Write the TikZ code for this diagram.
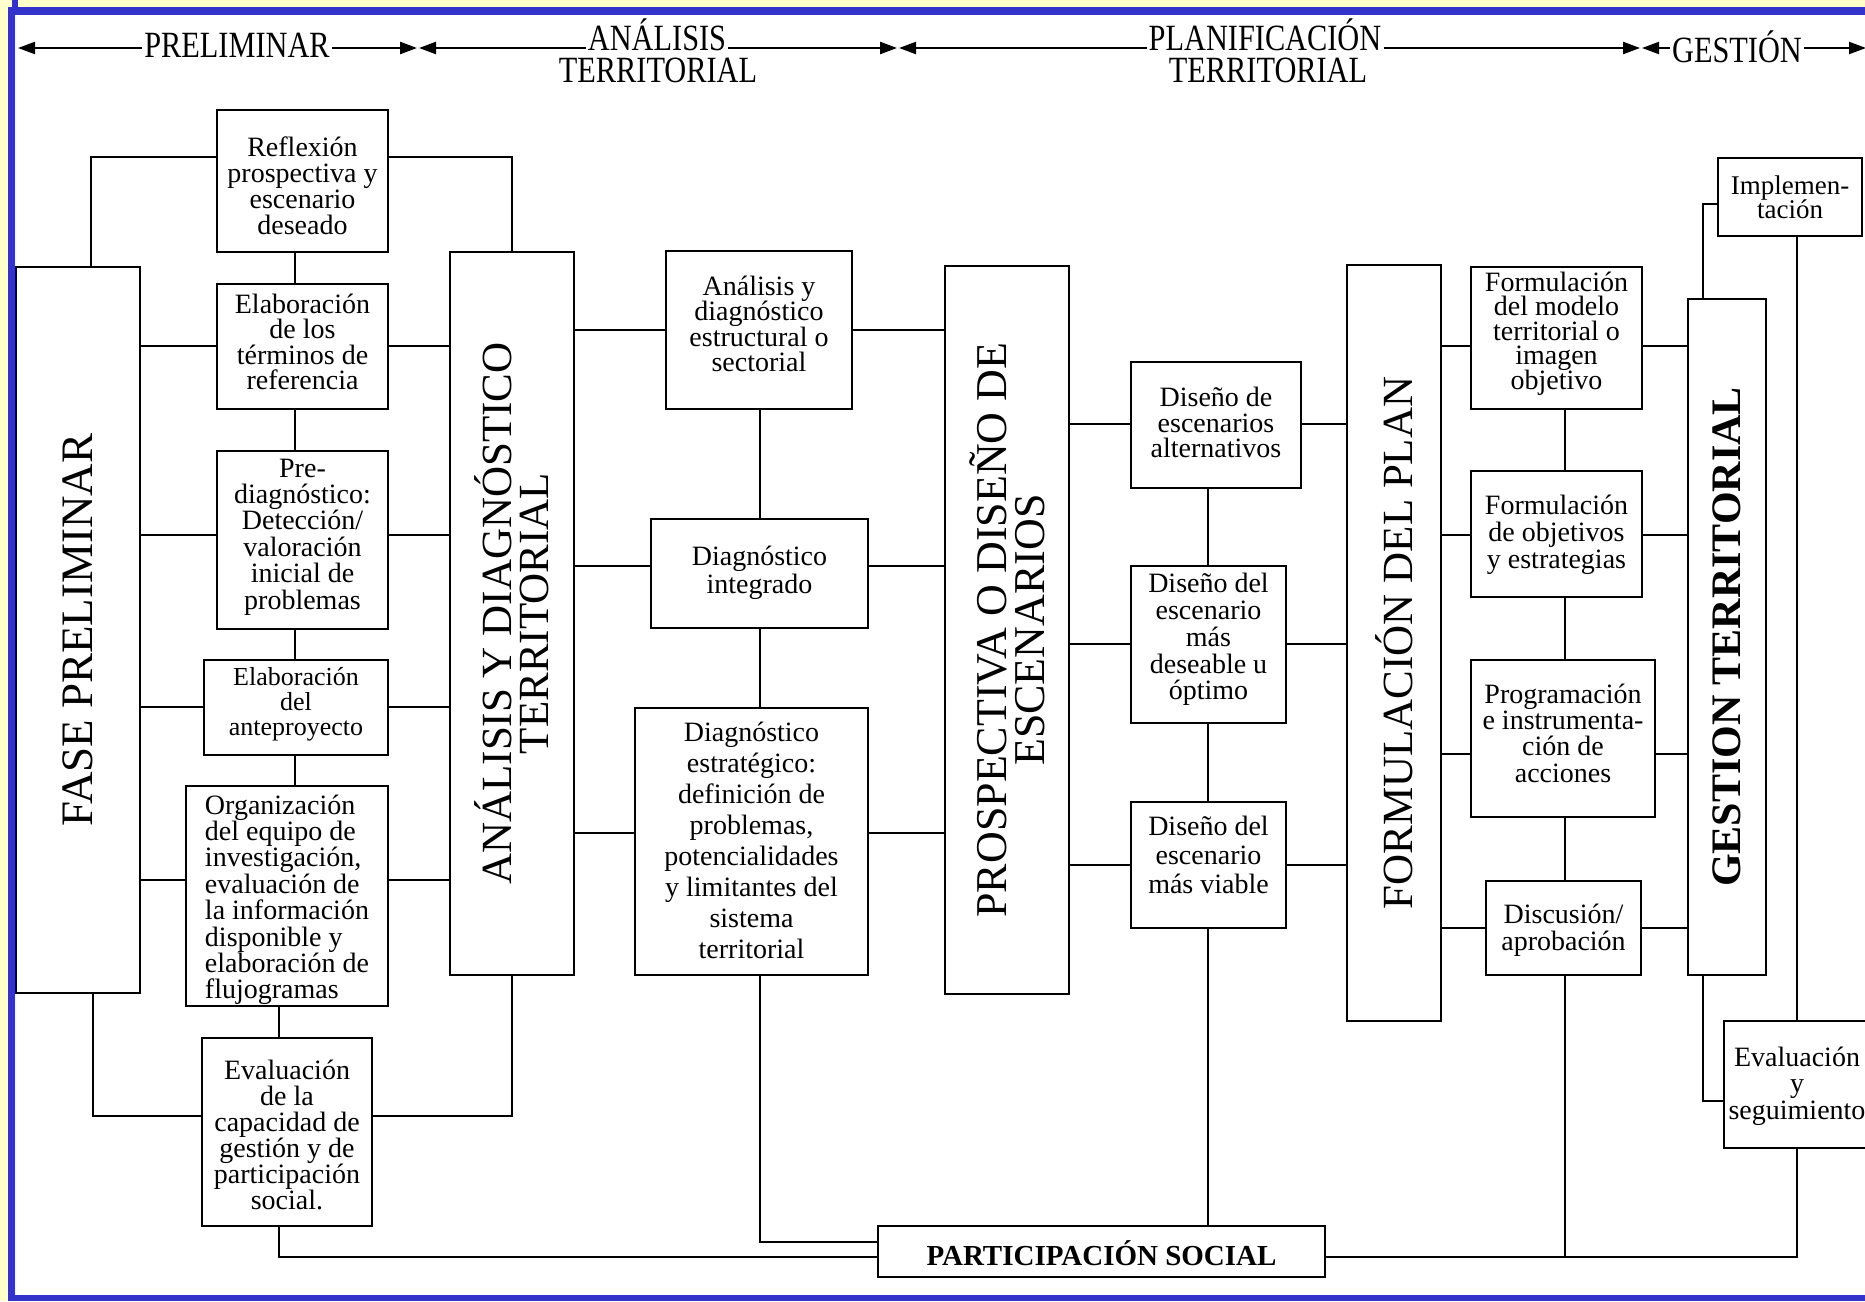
\documentclass[tikz,border=0pt]{standalone}
\usepackage{fontspec}
\setmainfont{Liberation Serif}
\newfontfamily\hdrfont[FakeStretch=0.82]{Liberation Serif}
\usetikzlibrary{fit,arrows.meta}
\definecolor{bgyellow}{RGB}{255,255,204}
\definecolor{frameblue}{RGB}{51,51,204}
% box text: [size]{raise of first baseline above box centre}{line pitch}{lines}
\newcommand\bt[4][28]{\raisebox{#2pt}[0pt][0pt]{\fontsize{#1}{#3}\selectfont\lineskiplimit=-1000pt\def\\{\cr}\vtop{\halign{\hfil##\hfil\cr#4\crcr}}}}
\newcommand\btl[4][28]{\raisebox{#2pt}[0pt][0pt]{\fontsize{#1}{#3}\selectfont\lineskiplimit=-1000pt\def\\{\cr}\vtop{\halign{##\hfil\cr#4\crcr}}}}
\begin{document}
\begin{tikzpicture}[x=1pt,y=-1pt,
  box/.style={draw, line width=2.2pt, fill=white, inner sep=0pt},
  conn/.style={line width=2.2pt, draw=black},
  hdr/.style={inner xsep=2pt, inner ysep=0pt, font=\hdrfont\fontsize{37}{28}\selectfont, anchor=base},
  hline/.style={line width=2.2pt}]
\useasboundingbox (0,0) rectangle (1865,1301);
\fill[bgyellow] (0,0) rectangle (1865,1301);
\fill[frameblue] (8,7) rectangle (1865,1301);
\fill[frameblue] (12,0) rectangle (18,7);
\fill[white] (15,15) rectangle (1865,1295);

% header
\node[hdr] (hPre) at (237,57) {PRELIMINAR};
\node[hdr] (hAna) at (657,50) {ANÁLISIS};
\node[hdr] (hAnaB) at (658,82) {TERRITORIAL};
\node[hdr] (hPla) at (1265,50) {PLANIFICACIÓN};
\node[hdr] (hPlaB) at (1268,82) {TERRITORIAL};
\node[hdr] (hGes) at (1737,62) {GESTIÓN};
\coordinate (t0) at (18,48);
\coordinate (t1a) at (417,48);
\coordinate (t1b) at (419,48);
\coordinate (t2a) at (897,48);
\coordinate (t2b) at (899,48);
\coordinate (t3a) at (1640,48);
\coordinate (t3b) at (1642,48);
\coordinate (t4) at (1866,48);
\draw[hline,{Triangle[length=17pt,width=12pt]}-] (t0) -- (hPre.west |- t0);
\draw[hline,-{Triangle[length=17pt,width=12pt]}] (hPre.east |- t0) -- (t1a);
\draw[hline,{Triangle[length=17pt,width=12pt]}-] (t1b) -- (hAna.west |- t0);
\draw[hline,-{Triangle[length=17pt,width=12pt]}] (hAna.east |- t0) -- (t2a);
\draw[hline,{Triangle[length=17pt,width=12pt]}-] (t2b) -- (hPla.west |- t0);
\draw[hline,-{Triangle[length=17pt,width=12pt]}] (hPla.east |- t0) -- (t3a);
\draw[hline,{Triangle[length=17pt,width=12pt]}-] (t3b) -- (hGes.west |- t0);
\draw[hline,-{Triangle[length=17pt,width=12pt]}] (hGes.east |- t0) -- (t4);

% boxes
\node[box, fit={(16,267) (140,993)},
  label={[rotate=90, font=\fontsize{45}{45}\selectfont]center:FASE PRELIMINAR}] (fase) {};
\node[box, fit={(217,110) (388,252)}] (refl) {\bt{25}{26}{Reflexión\\prospectiva y\\escenario\\deseado}};
\node[box, fit={(217,284) (388,409)}] (elt) {\bt{33.5}{25.5}{Elaboración\\de los\\términos de\\referencia}};
\node[box, fit={(217,451) (388,629)}] (pre) {\bt{63}{26.4}{Pre-\\diagnóstico:\\Detección/\\valoración\\inicial de\\problemas}};
\node[box, fit={(204,660) (388,755)}] (ela) {\bt[26]{22}{25}{Elaboración\\del\\anteproyecto}};
\node[box, fit={(186,786) (388,1006)}] (org) {\btl{82}{26.4}{Organización\\del equipo de\\investigación,\\evaluación de\\la información\\disponible y\\elaboración de\\flujogramas}};
\node[box, fit={(202,1038) (372,1226)}] (evc) {\bt{52.5}{26}{Evaluación\\de la\\capacidad de\\gestión y de\\participación\\social.}};
\node[box, fit={(450,252) (574,975)},
  label={[rotate=90, align=center, font=\fontsize{43}{37}\selectfont]center:{ANÁLISIS Y DIAGNÓSTICO\\TERRITORIAL}}] (anl) {};
\node[box, fit={(666,251) (852,409)}] (ads) {\bt{35}{25.5}{Análisis y\\diagnóstico\\estructural o\\sectorial}};
\node[box, fit={(651,519) (868,628)}] (dgi) {\bt{8.5}{28}{Diagnóstico\\integrado}};
\node[box, fit={(635,708) (868,975)}] (dge) {\bt{100.5}{31}{Diagnóstico\\estratégico:\\definición de\\problemas,\\potencialidades\\y limitantes del\\sistema\\territorial}};
\node[box, fit={(945,266) (1069,994)},
  label={[rotate=90, align=center, font=\fontsize{44}{38}\selectfont]center:{PROSPECTIVA O DISEÑO DE\\ESCENARIOS}}] (pro) {};
\node[box, fit={(1131,362) (1301,488)}] (dsa) {\bt{18.5}{25.5}{Diseño de\\escenarios\\alternativos}};
\node[box, fit={(1131,566) (1286,723)}] (dsd) {\bt{51.8}{26.8}{Diseño del\\escenario\\más\\deseable u\\óptimo}};
\node[box, fit={(1131,802) (1286,928)}] (dsv) {\bt{30}{29}{Diseño del\\escenario\\más viable}};
\node[box, fit={(1347,265) (1441,1021)},
  label={[rotate=90, font=\fontsize{43}{43}\selectfont]center:FORMULACIÓN DEL PLAN}] (frm) {};
\node[box, fit={(1471,267) (1642,409)}] (fmo) {\bt{46.5}{24.4}{Formulación\\del modelo\\territorial o\\imagen\\objetivo}};
\node[box, fit={(1471,471) (1642,597)}] (fob) {\bt{20}{27}{Formulación\\de objetivos\\y estrategias}};
\node[box, fit={(1471,660) (1655,817)}] (prg) {\bt{35}{26.2}{Programación\\e instrumenta-\\ción de\\acciones}};
\node[box, fit={(1486,881) (1641,975)}] (dis) {\bt{5}{27}{Discusión/\\aprobación}};
\node[box, fit={(1688,299) (1766,975)},
  label={[rotate=90, font=\fontsize{42}{42}\selectfont\bfseries]center:GESTION TERRITORIAL}] (ges) {};
\node[box, fit={(1718,158) (1862,236)}] (imp) {\bt[27]{3}{24}{Implemen-\\tación}};
\node[box, fit={(1724,1021) (1870,1148)}] (evs) {\bt{18.5}{26.7}{Evaluación\\y\\seguimiento}};
\node[box, fit={(878,1226) (1325,1277)}] (par) {\bt[29]{-13.5}{29}{\bfseries PARTICIPACIÓN SOCIAL}};
\coordinate (jd) at (1565,1257);

% connectors: preliminary column
\draw[conn] (fase.north -| 91,0) |- (refl.west |- 0,157);
\draw[conn] (refl.east |- 0,157) -| (anl.north -| 512,0);
\foreach \n/\y in {elt/346, pre/535, ela/707, org/880} {
  \draw[conn] (fase.east |- 0,\y) -- (\n.west |- 0,\y);
  \draw[conn] (\n.east |- 0,\y) -- (anl.west |- 0,\y);
}
\draw[conn] (fase.south -| 93,0) |- (evc.west |- 0,1116);
\draw[conn] (evc.east |- 0,1116) -| (anl.south -| 512,0);
\draw[conn] (refl.south -| 295,0) -- (elt.north -| 295,0);
\draw[conn] (elt.south -| 295,0) -- (pre.north -| 295,0);
\draw[conn] (pre.south -| 295,0) -- (ela.north -| 295,0);
\draw[conn] (ela.south -| 295,0) -- (org.north -| 295,0);
\draw[conn] (org.south -| 279,0) -- (evc.north -| 279,0);
\draw[conn] (evc.south -| 279,0) |- (par.west |- 0,1257);

% analysis column
\foreach \n/\y in {ads/330, dgi/566, dge/833} {
  \draw[conn] (anl.east |- 0,\y) -- (\n.west |- 0,\y);
  \draw[conn] (\n.east |- 0,\y) -- (pro.west |- 0,\y);
}
\draw[conn] (ads.south -| 760,0) -- (dgi.north -| 760,0);
\draw[conn] (dgi.south -| 760,0) -- (dge.north -| 760,0);
\draw[conn] (dge.south -| 760,0) |- (par.west |- 0,1242);

% scenario column
\foreach \n/\y in {dsa/424, dsd/644, dsv/865} {
  \draw[conn] (pro.east |- 0,\y) -- (\n.west |- 0,\y);
  \draw[conn] (\n.east |- 0,\y) -- (frm.west |- 0,\y);
}
\draw[conn] (dsa.south -| 1208,0) -- (dsd.north -| 1208,0);
\draw[conn] (dsd.south -| 1208,0) -- (dsv.north -| 1208,0);
\draw[conn] (dsv.south -| 1208,0) -- (par.north -| 1208,0);

% plan column
\foreach \n/\y in {fmo/346, fob/535, prg/754, dis/928} {
  \draw[conn] (frm.east |- 0,\y) -- (\n.west |- 0,\y);
  \draw[conn] (\n.east |- 0,\y) -- (ges.west |- 0,\y);
}
\draw[conn] (fmo.south -| 1565,0) -- (fob.north -| 1565,0);
\draw[conn] (fob.south -| 1565,0) -- (prg.north -| 1565,0);
\draw[conn] (prg.south -| 1565,0) -- (dis.north -| 1565,0);
\draw[conn] (dis.south -| 1565,0) -- (jd);

% management column
\draw[conn] (imp.west |- 0,204) -| (ges.north -| 1703,0);
\draw[conn] (imp.south -| 1797,0) -- (evs.north -| 1797,0);
\draw[conn] (ges.south -| 1703,0) |- (evs.west |- 0,1101);
\draw[conn] (evs.south -| 1797,0) |- (par.east |- 0,1257);
\end{tikzpicture}
\end{document}
